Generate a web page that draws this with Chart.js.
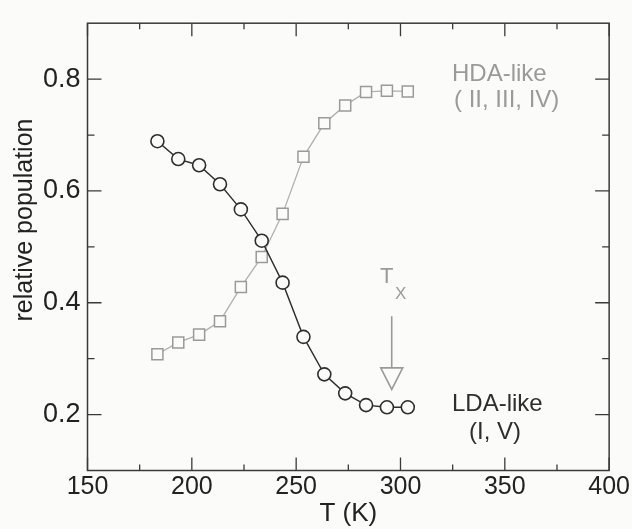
<!DOCTYPE html>
<html>
<head>
<meta charset="utf-8">
<script src="https://cdn.jsdelivr.net/npm/chart.js@4"></script>
<style>
  html, body { margin: 0; padding: 0; background: #fbfbf9; }
  #wrap { width: 632px; height: 529px; }
</style>
</head>
<body>
<div id="wrap"><canvas id="chart" width="632" height="529"></canvas></div>
<script>
// temperatures (K)
const temps = [183.5, 193.5, 203.5, 213.5, 223.5, 233.5, 243.5, 253.5, 263.5, 273.5, 283.5, 293.5, 303.5];
// LDA-like population (I, V)
const ldaPop = [0.689, 0.657, 0.646, 0.612, 0.567, 0.511, 0.436, 0.339, 0.272, 0.238, 0.217, 0.213, 0.213];
// HDA-like population (II, III, IV)
const hdaPop = [0.308, 0.329, 0.343, 0.367, 0.428, 0.482, 0.559, 0.661, 0.721, 0.753, 0.777, 0.779, 0.778];

const xMajor = [150, 200, 250, 300, 350, 400];
const xMinor = [175, 225, 275, 325, 375];
const yMajor = [0.2, 0.4, 0.6, 0.8];
const yMinor = [0.3, 0.5, 0.7];
const txArrow = {x: 295.8, top: 0.376, base: 0.2835, tip: 0.245};

const FONT = "'Liberation Sans', Arial, sans-serif";
const dark = "#2e2e2e";
const grey = "#9a9a9a";

const framePlugin = {
  id: "frame",
  beforeDraw(chart) {
    const c = chart.ctx;
    c.save();
    c.fillStyle = "#fbfbf9";
    c.fillRect(0, 0, chart.width, chart.height);
    c.restore();
  },
  afterDatasetsDraw(chart) {
    const c = chart.ctx;
    const a = chart.chartArea;
    const xs = chart.scales.x, ys = chart.scales.y;
    c.save();
    c.strokeStyle = "#3a3a3a";
    c.lineWidth = 1.5;
    c.strokeRect(a.left, a.top, a.right - a.left, a.bottom - a.top);
    c.lineWidth = 1.3;
    c.beginPath();
    function xt(v, len) {
      const p = xs.getPixelForValue(v);
      c.moveTo(p, a.bottom); c.lineTo(p, a.bottom - len);
      c.moveTo(p, a.top); c.lineTo(p, a.top + len);
    }
    function yt(v, len) {
      const p = ys.getPixelForValue(v);
      c.moveTo(a.left, p); c.lineTo(a.left + len, p);
      c.moveTo(a.right, p); c.lineTo(a.right - len, p);
    }
    xMajor.forEach(v => xt(v, 13));
    xMinor.forEach(v => xt(v, 6));
    yMajor.forEach(v => yt(v, 14));
    yMinor.forEach(v => yt(v, 7));
    c.stroke();

    // T_x arrow
    const ax = xs.getPixelForValue(txArrow.x);
    const y1 = ys.getPixelForValue(txArrow.top);
    const yb = ys.getPixelForValue(txArrow.base);
    const yp = ys.getPixelForValue(txArrow.tip);
    c.strokeStyle = grey;
    c.lineWidth = 1.6;
    c.beginPath();
    c.moveTo(ax, y1); c.lineTo(ax, yb);
    c.moveTo(ax - 11, yb); c.lineTo(ax + 11, yb); c.lineTo(ax, yp); c.closePath();
    c.stroke();

    // texts
    c.textBaseline = "middle";
    c.fillStyle = grey;
    c.textAlign = "left";
    c.font = "22px " + FONT;
    c.fillText("T", 380, 277);
    c.font = "17px " + FONT;
    c.fillText("X", 395, 294);
    c.font = "24px " + FONT;
    c.fillText("HDA-like", 452, 74);
    c.fillText("( II, III, IV)", 454, 100);
    c.fillStyle = dark;
    c.fillText("LDA-like", 452, 404);
    c.textAlign = "center";
    c.fillText("(I, V)", 495, 432);

    // y title
    c.save();
    c.translate(25, 220);
    c.rotate(-Math.PI / 2);
    c.font = "25px " + FONT;
    c.fillStyle = "#222";
    c.fillText("relative population", 0, 0);
    c.restore();
    c.restore();
  }
};

new Chart(document.getElementById("chart"), {
  type: "line",
  data: {
    datasets: [{
      label: "LDA-like (I, V)",
      data: temps.map((t, i) => ({x: t, y: ldaPop[i]})),
      borderColor: dark,
      borderWidth: 1.4,
      pointStyle: "circle",
      pointRadius: 6.5,
      pointBorderWidth: 1.6,
      pointBorderColor: dark,
      pointBackgroundColor: "#fbfbf9",
      tension: 0,
      order: 1
    }, {
      label: "HDA-like (II, III, IV)",
      data: temps.map((t, i) => ({x: t, y: hdaPop[i]})),
      borderColor: "#b0b0b0",
      borderWidth: 1.3,
      pointStyle: "rect",
      pointRadius: 7.8,
      pointBorderWidth: 1.5,
      pointBorderColor: grey,
      pointBackgroundColor: "#fbfbf9",
      tension: 0,
      order: 2
    }]
  },
  options: {
    responsive: false,
    animation: false,
    layout: {padding: {top: 11, right: 21, left: 0, bottom: 0}},
    plugins: {legend: {display: false}, tooltip: {enabled: false}},
    scales: {
      x: {
        type: "linear", min: 150, max: 400,
        afterFit: s => { s.height = 58.5; },
        afterBuildTicks: s => { s.ticks = xMajor.map(v => ({value: v})); },
        grid: {display: false, drawTicks: false},
        border: {display: false},
        ticks: {padding: 2, color: "#222", font: {family: FONT, size: 25}, maxRotation: 0},
        title: {display: true, text: "T (K)", color: "#222", font: {family: FONT, size: 26}, padding: 0}
      },
      y: {
        type: "linear", min: 0.1, max: 0.9,
        afterFit: s => { s.width = 87.5; },
        afterBuildTicks: s => { s.ticks = yMajor.map(v => ({value: v})); },
        grid: {display: false, drawTicks: false},
        border: {display: false},
        ticks: {padding: 7, color: "#222", font: {family: FONT, size: 27}, callback: v => v.toFixed(1)}
      }
    }
  },
  plugins: [framePlugin]
});
</script>
</body>
</html>
